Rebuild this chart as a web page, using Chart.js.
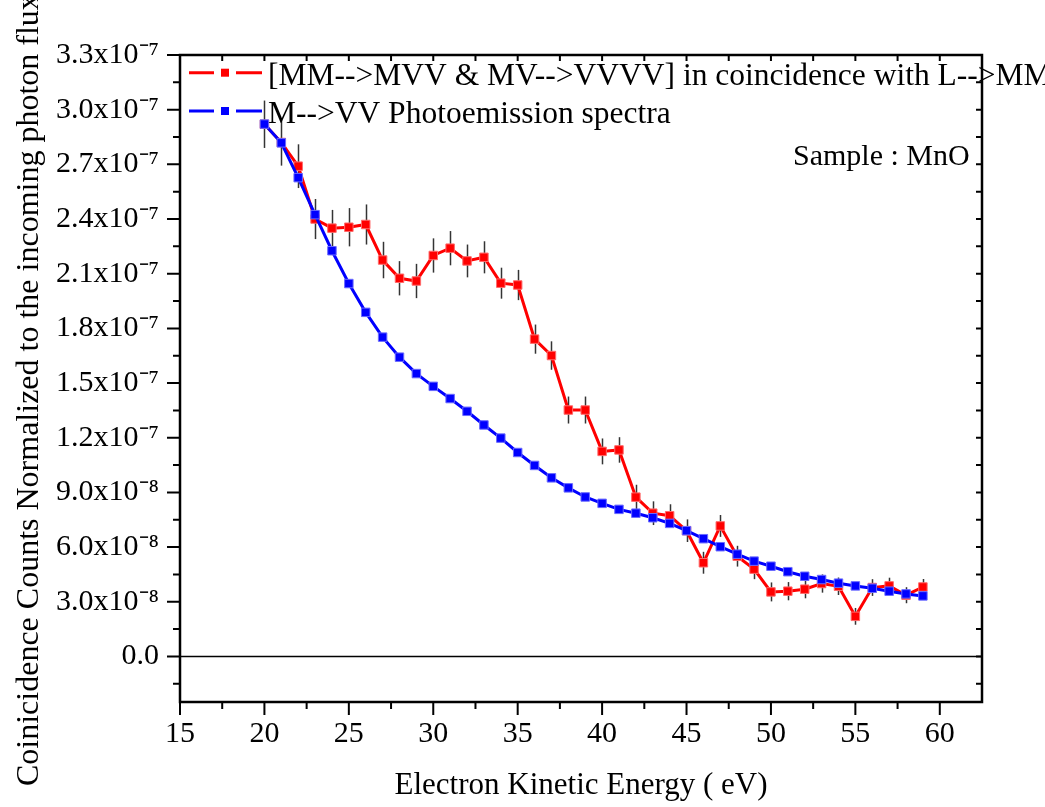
<!DOCTYPE html>
<html lang="en">
<head>
<meta charset="UTF-8">
<title>MnO coincidence spectra</title>
<script src="https://cdn.jsdelivr.net/npm/chart.js"></script>
<style>
  html, body { margin: 0; padding: 0; background: #fff; }
  #wrap { width: 1045px; height: 807px; position: relative; }
</style>
</head>
<body>
<div id="wrap"><canvas id="spectraChart"></canvas></div>
<script>
// electron kinetic energy (eV)
const energy = [20, 21, 22, 23, 24, 25, 26, 27, 28, 29, 30, 31, 32, 33, 34, 35, 36, 37, 38, 39,
                40, 41, 42, 43, 44, 45, 46, 47, 48, 49, 50, 51, 52, 53, 54, 55, 56, 57, 58, 59];

// coincidence counts (red) and their error bars
const coincidence = [2.92e-7, 2.82e-7, 2.69e-7, 2.40e-7, 2.35e-7, 2.355e-7, 2.37e-7, 2.175e-7, 2.075e-7, 2.06e-7,
                     2.20e-7, 2.24e-7, 2.17e-7, 2.19e-7, 2.048e-7, 2.038e-7, 1.741e-7, 1.651e-7, 1.352e-7, 1.352e-7,
                     1.125e-7, 1.133e-7, 8.74e-8, 7.86e-8, 7.72e-8, 6.9e-8, 5.14e-8, 7.16e-8, 5.5e-8, 4.79e-8,
                     3.54e-8, 3.58e-8, 3.69e-8, 4.0e-8, 3.85e-8, 2.2e-8, 3.78e-8, 3.87e-8, 3.36e-8, 3.81e-8];
const coincidenceErr = [1.3e-8, 1.27e-8, 1.2e-8, 1.1e-8, 1.0e-8, 1.05e-8, 1.1e-8, 1.0e-8, 9.4e-9, 9.4e-9,
                        9.4e-9, 9.4e-9, 9.0e-9, 8.8e-9, 8.5e-9, 8.3e-9, 8.0e-9, 7.8e-9, 7.4e-9, 7.4e-9,
                        7.1e-9, 7.0e-9, 6.8e-9, 6.5e-9, 6.3e-9, 6.2e-9, 6.0e-9, 6.0e-9, 5.7e-9, 5.5e-9,
                        5.2e-9, 5.0e-9, 5.0e-9, 5.0e-9, 4.8e-9, 4.6e-9, 4.6e-9, 4.5e-9, 4.4e-9, 4.4e-9];

// photoemission spectrum (blue)
const photoemission = [2.921e-7, 2.818e-7, 2.627e-7, 2.424e-7, 2.226e-7, 2.046e-7, 1.888e-7, 1.752e-7, 1.642e-7, 1.552e-7,
                       1.482e-7, 1.415e-7, 1.345e-7, 1.27e-7, 1.198e-7, 1.119e-7, 1.048e-7, 9.8e-8, 9.25e-8, 8.75e-8,
                       8.4e-8, 8.07e-8, 7.86e-8, 7.61e-8, 7.3e-8, 6.9e-8, 6.46e-8, 6.02e-8, 5.61e-8, 5.23e-8,
                       4.95e-8, 4.65e-8, 4.4e-8, 4.22e-8, 4.02e-8, 3.87e-8, 3.74e-8, 3.58e-8, 3.43e-8, 3.32e-8];

const seriesLabels = ['[MM-->MVV & MV-->VVVV] in coincidence with L-->MM', 'M-->VV Photoemission spectra'];
const seriesColors = ['#ff0000', '#0000ff'];

// axis ticks
const xTicks = [15, 20, 25, 30, 35, 40, 45, 50, 55, 60];
const xMinorTicks = [17.5, 22.5, 27.5, 32.5, 37.5, 42.5, 47.5, 52.5, 57.5];
const yTicks = [0, 3e-8, 6e-8, 9e-8, 1.2e-7, 1.5e-7, 1.8e-7, 2.1e-7, 2.4e-7, 2.7e-7, 3.0e-7, 3.3e-7];
const yTickLabels = ['0.0', '3.0x10⁻⁸', '6.0x10⁻⁸', '9.0x10⁻⁸', '1.2x10⁻⁷', '1.5x10⁻⁷', '1.8x10⁻⁷',
                     '2.1x10⁻⁷', '2.4x10⁻⁷', '2.7x10⁻⁷', '3.0x10⁻⁷', '3.3x10⁻⁷'];
const yMinorTicks = [-1.5e-8, 1.5e-8, 4.5e-8, 7.5e-8, 1.05e-7, 1.35e-7, 1.65e-7, 1.95e-7, 2.25e-7, 2.55e-7, 2.85e-7, 3.15e-7];

const serif = "'Liberation Serif', 'Times New Roman', serif";

function toPoints(ys) {
    return energy.map((e, i) => ({ x: e, y: ys[i] }));
}

// frame, tick marks, zero line, error bars, legend, side texts
const framePlugin = {
    id: 'framePlugin',
    beforeDatasetsDraw(chart) {
        const ctx = chart.ctx;
        const xs = chart.scales.x, ys = chart.scales.y;
        const area = chart.chartArea;
        ctx.save();
        // zero line
        const y0 = ys.getPixelForValue(0);
        ctx.strokeStyle = '#000';
        ctx.lineWidth = 1.5;
        ctx.beginPath();
        ctx.moveTo(area.left, y0);
        ctx.lineTo(area.right, y0);
        ctx.stroke();
        // error bars on the coincidence series
        ctx.strokeStyle = 'rgba(30,30,30,0.9)';
        ctx.lineWidth = 1.5;
        energy.forEach((e, i) => {
            const px = Math.round(xs.getPixelForValue(e)) + 0.5;
            ctx.beginPath();
            ctx.moveTo(px, ys.getPixelForValue(coincidence[i] + coincidenceErr[i]));
            ctx.lineTo(px, ys.getPixelForValue(coincidence[i] - coincidenceErr[i]));
            ctx.stroke();
        });
        ctx.restore();
    },
    afterDraw(chart) {
        const ctx = chart.ctx;
        const xs = chart.scales.x, ys = chart.scales.y;
        const { left, right, top, bottom } = chart.chartArea;
        ctx.save();
        ctx.strokeStyle = '#000';
        ctx.lineWidth = 2.5;
        ctx.strokeRect(left, top, right - left, bottom - top);

        ctx.lineWidth = 2;
        ctx.beginPath();
        xTicks.forEach(v => {
            const p = xs.getPixelForValue(v);
            ctx.moveTo(p, bottom); ctx.lineTo(p, bottom + 13);
            ctx.moveTo(p, top); ctx.lineTo(p, top + 6);
        });
        xMinorTicks.forEach(v => {
            const p = xs.getPixelForValue(v);
            ctx.moveTo(p, bottom); ctx.lineTo(p, bottom + 7);
            ctx.moveTo(p, top); ctx.lineTo(p, top + 6);
        });
        yTicks.forEach(v => {
            const p = ys.getPixelForValue(v);
            ctx.moveTo(left, p); ctx.lineTo(left - 13, p);
            ctx.moveTo(right, p); ctx.lineTo(right - 6, p);
        });
        yMinorTicks.forEach(v => {
            const p = ys.getPixelForValue(v);
            ctx.moveTo(left, p); ctx.lineTo(left - 7, p);
            ctx.moveTo(right, p); ctx.lineTo(right - 6, p);
        });
        ctx.stroke();

        // legend inside the plot
        const rows = [72.7, 111];
        seriesLabels.forEach((label, i) => {
            const y = rows[i];
            ctx.strokeStyle = seriesColors[i];
            ctx.fillStyle = seriesColors[i];
            ctx.lineWidth = 3;
            ctx.beginPath();
            ctx.moveTo(189, y); ctx.lineTo(214, y);
            ctx.moveTo(236, y); ctx.lineTo(262, y);
            ctx.stroke();
            ctx.fillRect(221, y - 4, 8, 8);
            ctx.fillStyle = '#000';
            ctx.font = '31.5px ' + serif;
            ctx.textAlign = 'left';
            ctx.textBaseline = 'middle';
            ctx.fillText(label, 268, y + 4);
        });

        // sample annotation
        ctx.font = '30px ' + serif;
        ctx.textBaseline = 'alphabetic';
        ctx.fillText('Sample : MnO', 793, 165);

        // y axis title
        ctx.translate(38, 786);
        ctx.rotate(-Math.PI / 2);
        ctx.font = '32px ' + serif;
        ctx.fillText('Coinicidence Counts Normalized to the incoming photon flux', 0, 0);
        ctx.restore();
    }
};

const ctx = document.getElementById('spectraChart').getContext('2d');
new Chart(ctx, {
    type: 'line',
    data: {
        datasets: [
            {
                label: seriesLabels[0],
                data: toPoints(coincidence),
                borderColor: seriesColors[0],
                backgroundColor: seriesColors[0],
                borderWidth: 3,
                pointStyle: 'rect',
                pointRadius: 6,
                pointBorderWidth: 1,
                pointBorderColor: '#ff6a6a',
                tension: 0,
                order: 1
            },
            {
                label: seriesLabels[1],
                data: toPoints(photoemission),
                borderColor: seriesColors[1],
                backgroundColor: seriesColors[1],
                borderWidth: 3,
                pointStyle: 'rect',
                pointRadius: 6,
                pointBorderWidth: 1,
                pointBorderColor: '#6a6aff',
                tension: 0,
                order: 0
            }
        ]
    },
    options: {
        responsive: true,
        maintainAspectRatio: false,
        animation: false,
        layout: { padding: { top: 55, right: 63, left: 0, bottom: 0 } },
        plugins: {
            legend: { display: false },
            tooltip: { enabled: false }
        },
        scales: {
            x: {
                type: 'linear',
                min: 15,
                max: 62.5,
                afterFit: s => { s.height = 105; },
                afterBuildTicks: s => { s.ticks = xTicks.map(v => ({ value: v })); },
                grid: { display: false, drawTicks: false },
                border: { display: false },
                ticks: {
                    autoSkip: false,
                    maxRotation: 0,
                    padding: 14,
                    color: '#000',
                    font: { family: serif, size: 30 },
                    callback: v => String(v)
                },
                title: {
                    display: true,
                    text: 'Electron Kinetic Energy ( eV)',
                    color: '#000',
                    font: { family: serif, size: 31 },
                    padding: { top: 0, bottom: 3 }
                }
            },
            y: {
                type: 'linear',
                min: -2.5e-8,
                max: 3.3e-7,
                afterFit: s => { s.width = 180; },
                afterBuildTicks: s => { s.ticks = yTicks.map(v => ({ value: v })); },
                grid: { display: false, drawTicks: false },
                border: { display: false },
                ticks: {
                    autoSkip: false,
                    padding: 21,
                    color: '#000',
                    font: { family: serif, size: 30 },
                    callback: (v, i) => yTickLabels[i]
                }
            }
        }
    },
    plugins: [framePlugin]
});
</script>
</body>
</html>
